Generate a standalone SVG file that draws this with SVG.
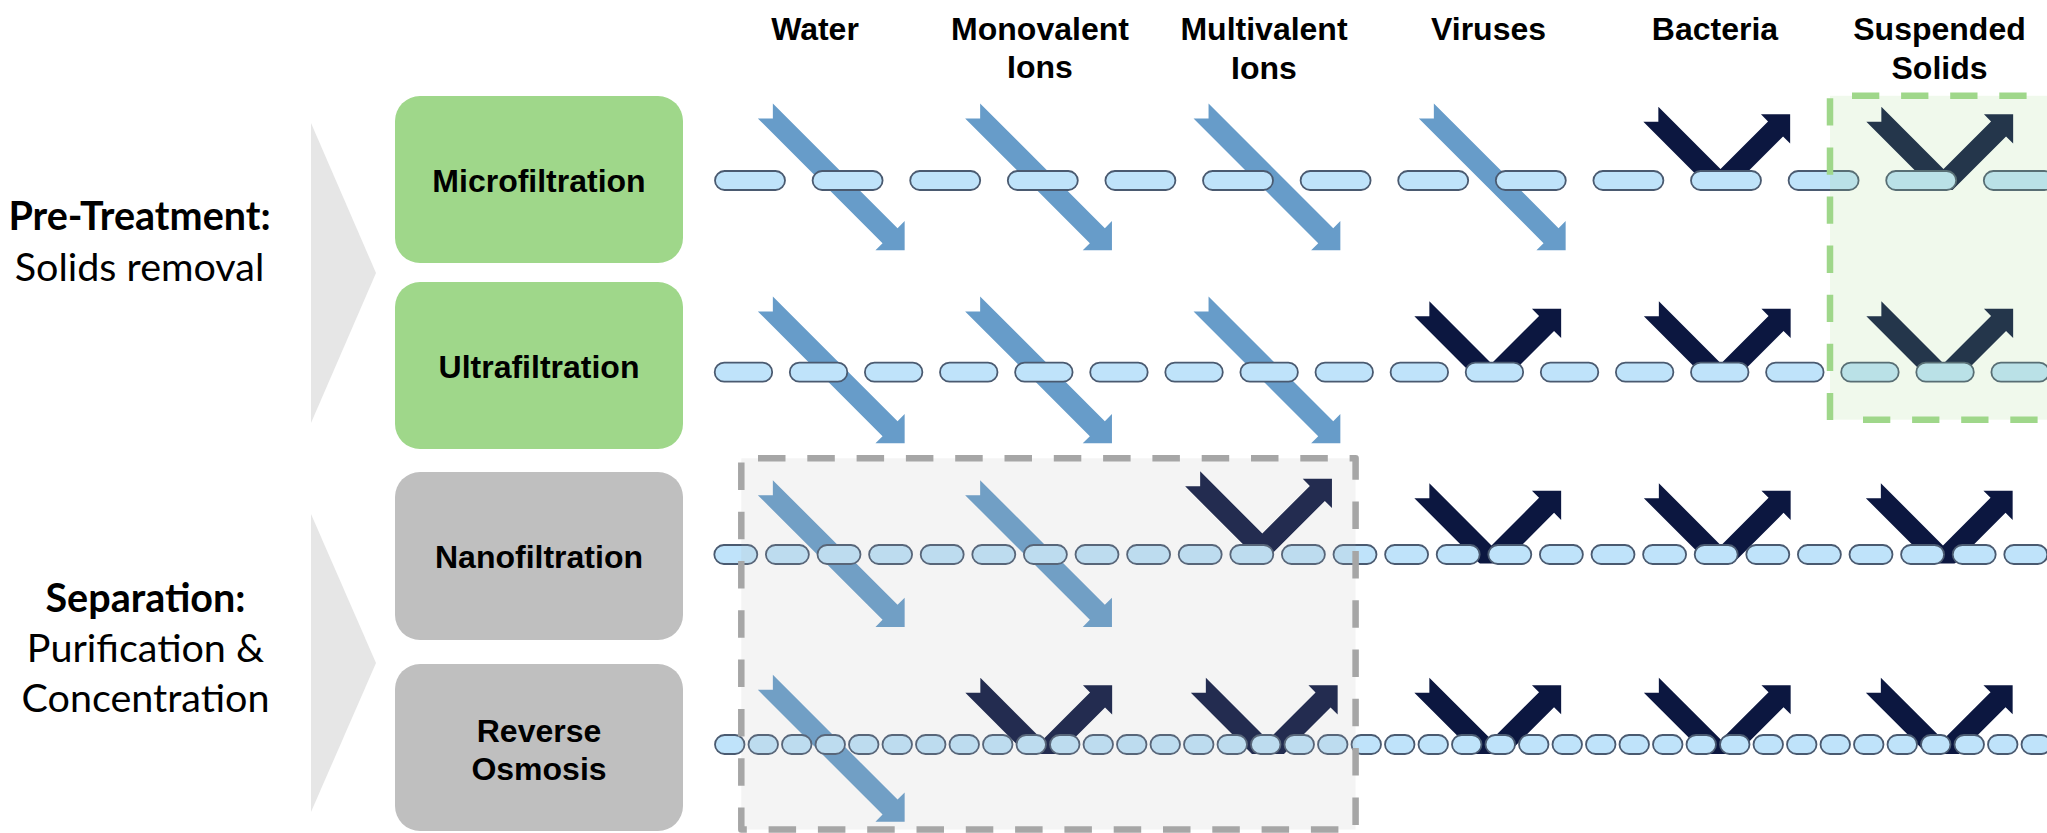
<svg xmlns="http://www.w3.org/2000/svg" xmlns:xlink="http://www.w3.org/1999/xlink" width="2047" height="833" viewBox="0 0 2047 833">
<style>
.hdr{font-family:"Liberation Sans",Arial,sans-serif;font-weight:bold;font-size:32px;fill:#000;text-anchor:middle}
.box-g{fill:#9FD78A}
.box-s{fill:#BFBFBF}
.lbl{font-family:Lato,"Noto Sans",sans-serif;font-size:39.5px;fill:#000;text-anchor:middle}
.b{font-weight:bold}
.chev{fill:#E6E6E6}
.pill{fill:#BFE3FA;stroke:#4A5A70;stroke-width:1.8}
.pass{fill:#679CC9}
.rej{fill:#0C1740}
</style>
<defs>
<path id="passArrow" d="M-62.15,-77.15 L62.55,47.55 L69.65,40.45 L69.65,69.65 L40.45,69.65 L47.55,62.55 L-77.15,-62.15 L-62.15,-62.15 Z"/>
<path id="vArrow" d="M-62.15,-77.15 L0,-15 L47.55,-62.55 L40.45,-69.65 L69.65,-69.65 L69.65,-40.45 L62.55,-47.55 L0,15 L-77.15,-62.15 L-62.15,-62.15 Z"/>
<rect id="p1" class="pill" width="70" height="19" rx="9.5"/>
<rect id="p2" class="pill" width="57.5" height="19" rx="9.5"/>
<rect id="p3" class="pill" width="43" height="19" rx="9.5"/>
<rect id="p4" class="pill" width="29.5" height="19" rx="9.5"/>
<clipPath id="clipR1"><rect x="0" y="0" width="2047" height="190"/></clipPath>
<clipPath id="clipR2"><rect x="0" y="200" width="2047" height="181.5"/></clipPath>
<clipPath id="clipR3"><rect x="0" y="450" width="2047" height="113.5"/></clipPath>
<clipPath id="clipR4"><rect x="0" y="640" width="2047" height="114"/></clipPath>
</defs>
<rect width="2047" height="833" fill="#FFFFFF"/>

<g id="chevron-pretreatment"><polygon class="chev" points="311,123 376,273 311,423"/></g>
<g id="chevron-separation"><polygon class="chev" points="311,514 376,663 311,812"/></g>

<g id="label-pretreatment">
<text class="lbl b" x="139.5" y="230">Pre-Treatment:</text>
<text class="lbl" x="139.5" y="281">Solids removal</text>
</g>
<g id="label-separation">
<text class="lbl b" x="145.5" y="611.5">Separation:</text>
<text class="lbl" x="145.5" y="661.5">Purification &amp;</text>
<text class="lbl" x="145.5" y="711.5">Concentration</text>
</g>

<g id="node-microfiltration">
<rect class="box-g" x="395" y="96" width="288" height="167" rx="25"/>
<text class="hdr" x="539" y="191.5">Microfiltration</text>
</g>
<g id="node-ultrafiltration">
<rect class="box-g" x="395" y="282" width="288" height="167" rx="25"/>
<text class="hdr" x="539" y="378">Ultrafiltration</text>
</g>
<g id="node-nanofiltration">
<rect class="box-s" x="395" y="472" width="288" height="168" rx="25"/>
<text class="hdr" x="539" y="568">Nanofiltration</text>
</g>
<g id="node-reverse-osmosis">
<rect class="box-s" x="395" y="664" width="288" height="167" rx="25"/>
<text class="hdr" x="539" y="742">Reverse</text>
<text class="hdr" x="539" y="780">Osmosis</text>
</g>

<g id="col-water"><text class="hdr" x="815" y="40">Water</text></g>
<g id="col-monovalent"><text class="hdr" x="1040" y="40">Monovalent</text><text class="hdr" x="1040" y="78">Ions</text></g>
<g id="col-multivalent"><text class="hdr" x="1264" y="40">Multivalent</text><text class="hdr" x="1264" y="78.5">Ions</text></g>
<g id="col-viruses"><text class="hdr" x="1488.5" y="40">Viruses</text></g>
<g id="col-bacteria"><text class="hdr" x="1715" y="40">Bacteria</text></g>
<g id="col-solids"><text class="hdr" x="1939.5" y="40">Suspended</text><text class="hdr" x="1939.5" y="78.5">Solids</text></g>

<g id="connectors">
<g class="pass">
<use href="#passArrow" x="835" y="180.6"/>
<use href="#passArrow" x="1042.3" y="180.6"/>
<use href="#passArrow" x="1270.7" y="180.6"/>
<use href="#passArrow" x="1496" y="180.6"/>
<use href="#passArrow" x="835" y="373.6"/>
<use href="#passArrow" x="1042.3" y="373.6"/>
<use href="#passArrow" x="1270.7" y="373.6"/>
<use href="#passArrow" x="835" y="557.3"/>
<use href="#passArrow" x="1042.3" y="557.3"/>
<use href="#passArrow" x="835" y="752"/>
</g>
<g class="rej" clip-path="url(#clipR1)">
<use href="#vArrow" x="1720.5" y="184"/>
<use href="#vArrow" x="1943.5" y="184"/>
</g>
<g class="rej" clip-path="url(#clipR2)">
<use href="#vArrow" x="1491.5" y="378.5"/>
<use href="#vArrow" x="1721" y="378.5"/>
<use href="#vArrow" x="1943.5" y="378.5"/>
</g>
<g class="rej" clip-path="url(#clipR3)">
<use href="#vArrow" x="1262.3" y="548.5"/>
<use href="#vArrow" x="1491.5" y="560.4"/>
<use href="#vArrow" x="1721" y="560.4"/>
<use href="#vArrow" x="1943" y="560.4"/>
</g>
<g class="rej" clip-path="url(#clipR4)">
<use href="#vArrow" x="1042.5" y="755"/>
<use href="#vArrow" x="1268" y="755"/>
<use href="#vArrow" x="1491.5" y="754.8"/>
<use href="#vArrow" x="1721" y="754.8"/>
<use href="#vArrow" x="1943" y="754.8"/>
</g>
</g>

<g id="membrane-mf">
<use href="#p1" x="715" y="171"/><use href="#p1" x="812.6" y="171"/><use href="#p1" x="910.2" y="171"/><use href="#p1" x="1007.8" y="171"/><use href="#p1" x="1105.4" y="171"/><use href="#p1" x="1203" y="171"/><use href="#p1" x="1300.6" y="171"/><use href="#p1" x="1398.2" y="171"/><use href="#p1" x="1495.8" y="171"/><use href="#p1" x="1593.4" y="171"/><use href="#p1" x="1691" y="171"/><use href="#p1" x="1788.6" y="171"/><use href="#p1" x="1886.2" y="171"/><use href="#p1" x="1983.8" y="171"/>
</g>
<g id="membrane-uf">
<use href="#p2" x="714.7" y="362.7"/><use href="#p2" x="789.8" y="362.7"/><use href="#p2" x="864.9" y="362.7"/><use href="#p2" x="940" y="362.7"/><use href="#p2" x="1015.1" y="362.7"/><use href="#p2" x="1090.2" y="362.7"/><use href="#p2" x="1165.3" y="362.7"/><use href="#p2" x="1240.4" y="362.7"/><use href="#p2" x="1315.5" y="362.7"/><use href="#p2" x="1390.6" y="362.7"/><use href="#p2" x="1465.7" y="362.7"/><use href="#p2" x="1540.8" y="362.7"/><use href="#p2" x="1615.9" y="362.7"/><use href="#p2" x="1691" y="362.7"/><use href="#p2" x="1766.1" y="362.7"/><use href="#p2" x="1841.2" y="362.7"/><use href="#p2" x="1916.3" y="362.7"/><use href="#p2" x="1991.4" y="362.7"/>
</g>
<g id="membrane-nf">
<use href="#p3" x="714.3" y="545"/><use href="#p3" x="765.9" y="545"/><use href="#p3" x="817.5" y="545"/><use href="#p3" x="869.1" y="545"/><use href="#p3" x="920.7" y="545"/><use href="#p3" x="972.3" y="545"/><use href="#p3" x="1023.9" y="545"/><use href="#p3" x="1075.5" y="545"/><use href="#p3" x="1127.1" y="545"/><use href="#p3" x="1178.7" y="545"/><use href="#p3" x="1230.3" y="545"/><use href="#p3" x="1281.9" y="545"/><use href="#p3" x="1333.5" y="545"/><use href="#p3" x="1385.1" y="545"/><use href="#p3" x="1436.7" y="545"/><use href="#p3" x="1488.3" y="545"/><use href="#p3" x="1539.9" y="545"/><use href="#p3" x="1591.5" y="545"/><use href="#p3" x="1643.1" y="545"/><use href="#p3" x="1694.7" y="545"/><use href="#p3" x="1746.3" y="545"/><use href="#p3" x="1797.9" y="545"/><use href="#p3" x="1849.5" y="545"/><use href="#p3" x="1901.1" y="545"/><use href="#p3" x="1952.7" y="545"/><use href="#p3" x="2004.3" y="545"/>
</g>
<g id="membrane-ro">
<use href="#p4" x="715" y="735"/><use href="#p4" x="748.5" y="735"/><use href="#p4" x="782" y="735"/><use href="#p4" x="815.5" y="735"/><use href="#p4" x="849" y="735"/><use href="#p4" x="882.5" y="735"/><use href="#p4" x="916" y="735"/><use href="#p4" x="949.5" y="735"/><use href="#p4" x="983" y="735"/><use href="#p4" x="1016.5" y="735"/><use href="#p4" x="1050" y="735"/><use href="#p4" x="1083.5" y="735"/><use href="#p4" x="1117" y="735"/><use href="#p4" x="1150.5" y="735"/><use href="#p4" x="1184" y="735"/><use href="#p4" x="1217.5" y="735"/><use href="#p4" x="1251" y="735"/><use href="#p4" x="1284.5" y="735"/><use href="#p4" x="1318" y="735"/><use href="#p4" x="1351.5" y="735"/><use href="#p4" x="1385" y="735"/><use href="#p4" x="1418.5" y="735"/><use href="#p4" x="1452" y="735"/><use href="#p4" x="1485.5" y="735"/><use href="#p4" x="1519" y="735"/><use href="#p4" x="1552.5" y="735"/><use href="#p4" x="1586" y="735"/><use href="#p4" x="1619.5" y="735"/><use href="#p4" x="1653" y="735"/><use href="#p4" x="1686.5" y="735"/><use href="#p4" x="1720" y="735"/><use href="#p4" x="1753.5" y="735"/><use href="#p4" x="1787" y="735"/><use href="#p4" x="1820.5" y="735"/><use href="#p4" x="1854" y="735"/><use href="#p4" x="1887.5" y="735"/><use href="#p4" x="1921" y="735"/><use href="#p4" x="1954.5" y="735"/><use href="#p4" x="1988" y="735"/><use href="#p4" x="2021.5" y="735"/>
</g>

<g id="highlight-separation">
<rect x="741.3" y="458.3" width="614.3" height="371.2" fill="#B0B0B0" fill-opacity="0.14"/>
<path d="M741.3,458.3 H1355.6 V829.5 H741.3 Z" fill="none" stroke="#A6A6A6" stroke-width="6.5" stroke-dasharray="27.5 21.8" stroke-dashoffset="32.6" stroke-linejoin="round"/>
</g>
<g id="highlight-pretreatment">
<rect x="1830" y="95.8" width="260" height="323.9" fill="#9FD78A" fill-opacity="0.16"/>
<g fill="none" stroke="#9FD78A" stroke-width="6.5" stroke-dasharray="27.3 21.8">
<path d="M1852,95.8 H2100"/>
<path d="M1830,98.3 V420"/>
<path d="M1863,419.7 H2100"/>
</g>
</g>
</svg>
